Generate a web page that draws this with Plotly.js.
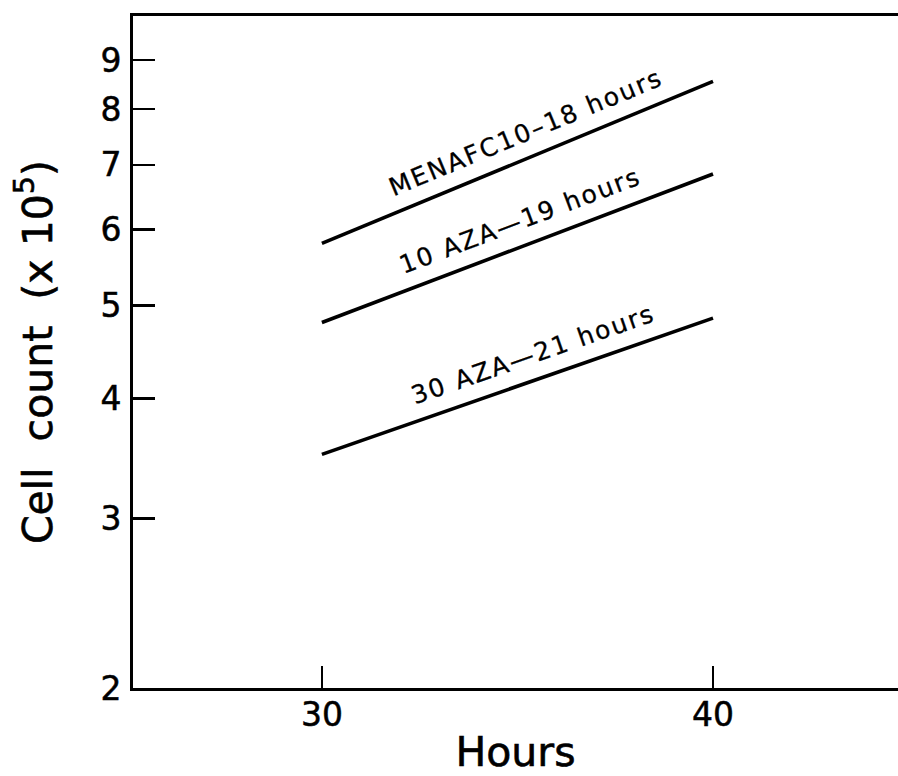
<!DOCTYPE html>
<html>
<head>
<meta charset="utf-8">
<script src="https://cdn.plot.ly/plotly-3.0.1.min.js"></script>
<style>
  html, body { margin: 0; padding: 0; background: #fff; }
  #chart { width: 898px; height: 776px; }
  .annotation-text { letter-spacing: 2px; stroke: #000; stroke-width: 0.3px; }
  .xtick text, .ytick text { stroke: #000; stroke-width: 0.5px; }
  .xtitle, .ytitle { stroke: #000; stroke-width: 0.6px; }
</style>
</head>
<body>
<div id="chart"></div>
<script>
// Growth of cell cultures, semi-log plot (cell count x 10^5 vs hours)
const hours = [30, 40];
const menafc10 = [5.8, 8.55];
const aza10 = [4.8, 6.85];
const aza30 = [3.5, 4.85];

const seriesNames = ['MENAFC10\u201318 hours', '10 AZA\u201419 hours', '30 AZA\u201421 hours'];
const seriesValues = [menafc10, aza10, aza30];
// where along each line its label sits (hours)
const labelAt = [35.45, 35.3, 35.6];

const xTicks = [30, 40];
const yTicks = [2, 3, 4, 5, 6, 7, 8, 9];

const W = 898, H = 776;
const M = { l: 133, r: 0, t: 16, b: 88 };
const xRange = [25.17, 44.73];
const yRange = [Math.log10(2), 1];

const plotW = W - M.l - M.r;
const plotH = H - M.t - M.b;
const pxPerHour = plotW / (xRange[1] - xRange[0]);
const pxPerDecade = plotH / (yRange[1] - yRange[0]);

const traces = seriesValues.map((vals, i) => ({
  type: 'scatter',
  mode: 'lines',
  x: hours,
  y: vals,
  name: seriesNames[i],
  line: { color: '#000', width: 3.6 },
  hoverinfo: 'skip'
}));

const annotations = seriesValues.map((vals, i) => {
  const dxPx = (hours[1] - hours[0]) * pxPerHour;
  const dyPx = (Math.log10(vals[1]) - Math.log10(vals[0])) * pxPerDecade;
  const theta = Math.atan2(dyPx, dxPx);
  const t = (labelAt[i] - hours[0]) / (hours[1] - hours[0]);
  const yAt = Math.pow(10, Math.log10(vals[0]) + t * (Math.log10(vals[1]) - Math.log10(vals[0])));
  const off = 25; // label sits above its line, perpendicular offset in px
  return {
    x: labelAt[i],
    y: Math.log10(yAt),
    xref: 'x', yref: 'y',
    text: seriesNames[i],
    showarrow: false,
    textangle: -theta * 180 / Math.PI,
    xanchor: 'center', yanchor: 'middle',
    xshift: -off * Math.sin(theta),
    yshift: off * Math.cos(theta),
    font: { family: 'DejaVu Sans', size: 25, color: '#000' }
  };
});

const layout = {
  width: W, height: H,
  margin: M,
  paper_bgcolor: '#fff',
  plot_bgcolor: '#fff',
  showlegend: false,
  xaxis: {
    range: xRange,
    tickvals: xTicks,
    ticktext: xTicks.map(String),
    ticks: 'inside', ticklen: 22, tickwidth: 2.5, tickcolor: '#000',
    showline: true, linewidth: 3, linecolor: '#000', mirror: true,
    showgrid: false, zeroline: false,
    tickfont: { family: 'DejaVu Sans', size: 33, color: '#000' },
    ticklabelstandoff: -5,
    title: { text: 'Hours', font: { family: 'DejaVu Sans', size: 41, color: '#000' }, standoff: 8 }
  },
  yaxis: {
    type: 'log',
    range: yRange,
    tickvals: yTicks,
    ticktext: yTicks.map(String),
    ticks: 'inside', ticklen: 22, tickwidth: 2.5, tickcolor: '#000',
    showline: true, linewidth: 3, linecolor: '#000', mirror: false,
    showgrid: false, zeroline: false,
    tickfont: { family: 'DejaVu Sans', size: 33, color: '#000' },
    ticklabelstandoff: 2,
    title: { text: 'Cell\u00a0 count\u00a0 (x 10<sup>5</sup>)', font: { family: 'DejaVu Sans', size: 41, color: '#000' }, standoff: 36 }
  },
  annotations: annotations
};

Plotly.newPlot('chart', traces, layout, { staticPlot: true, displayModeBar: false });
</script>
</body>
</html>
